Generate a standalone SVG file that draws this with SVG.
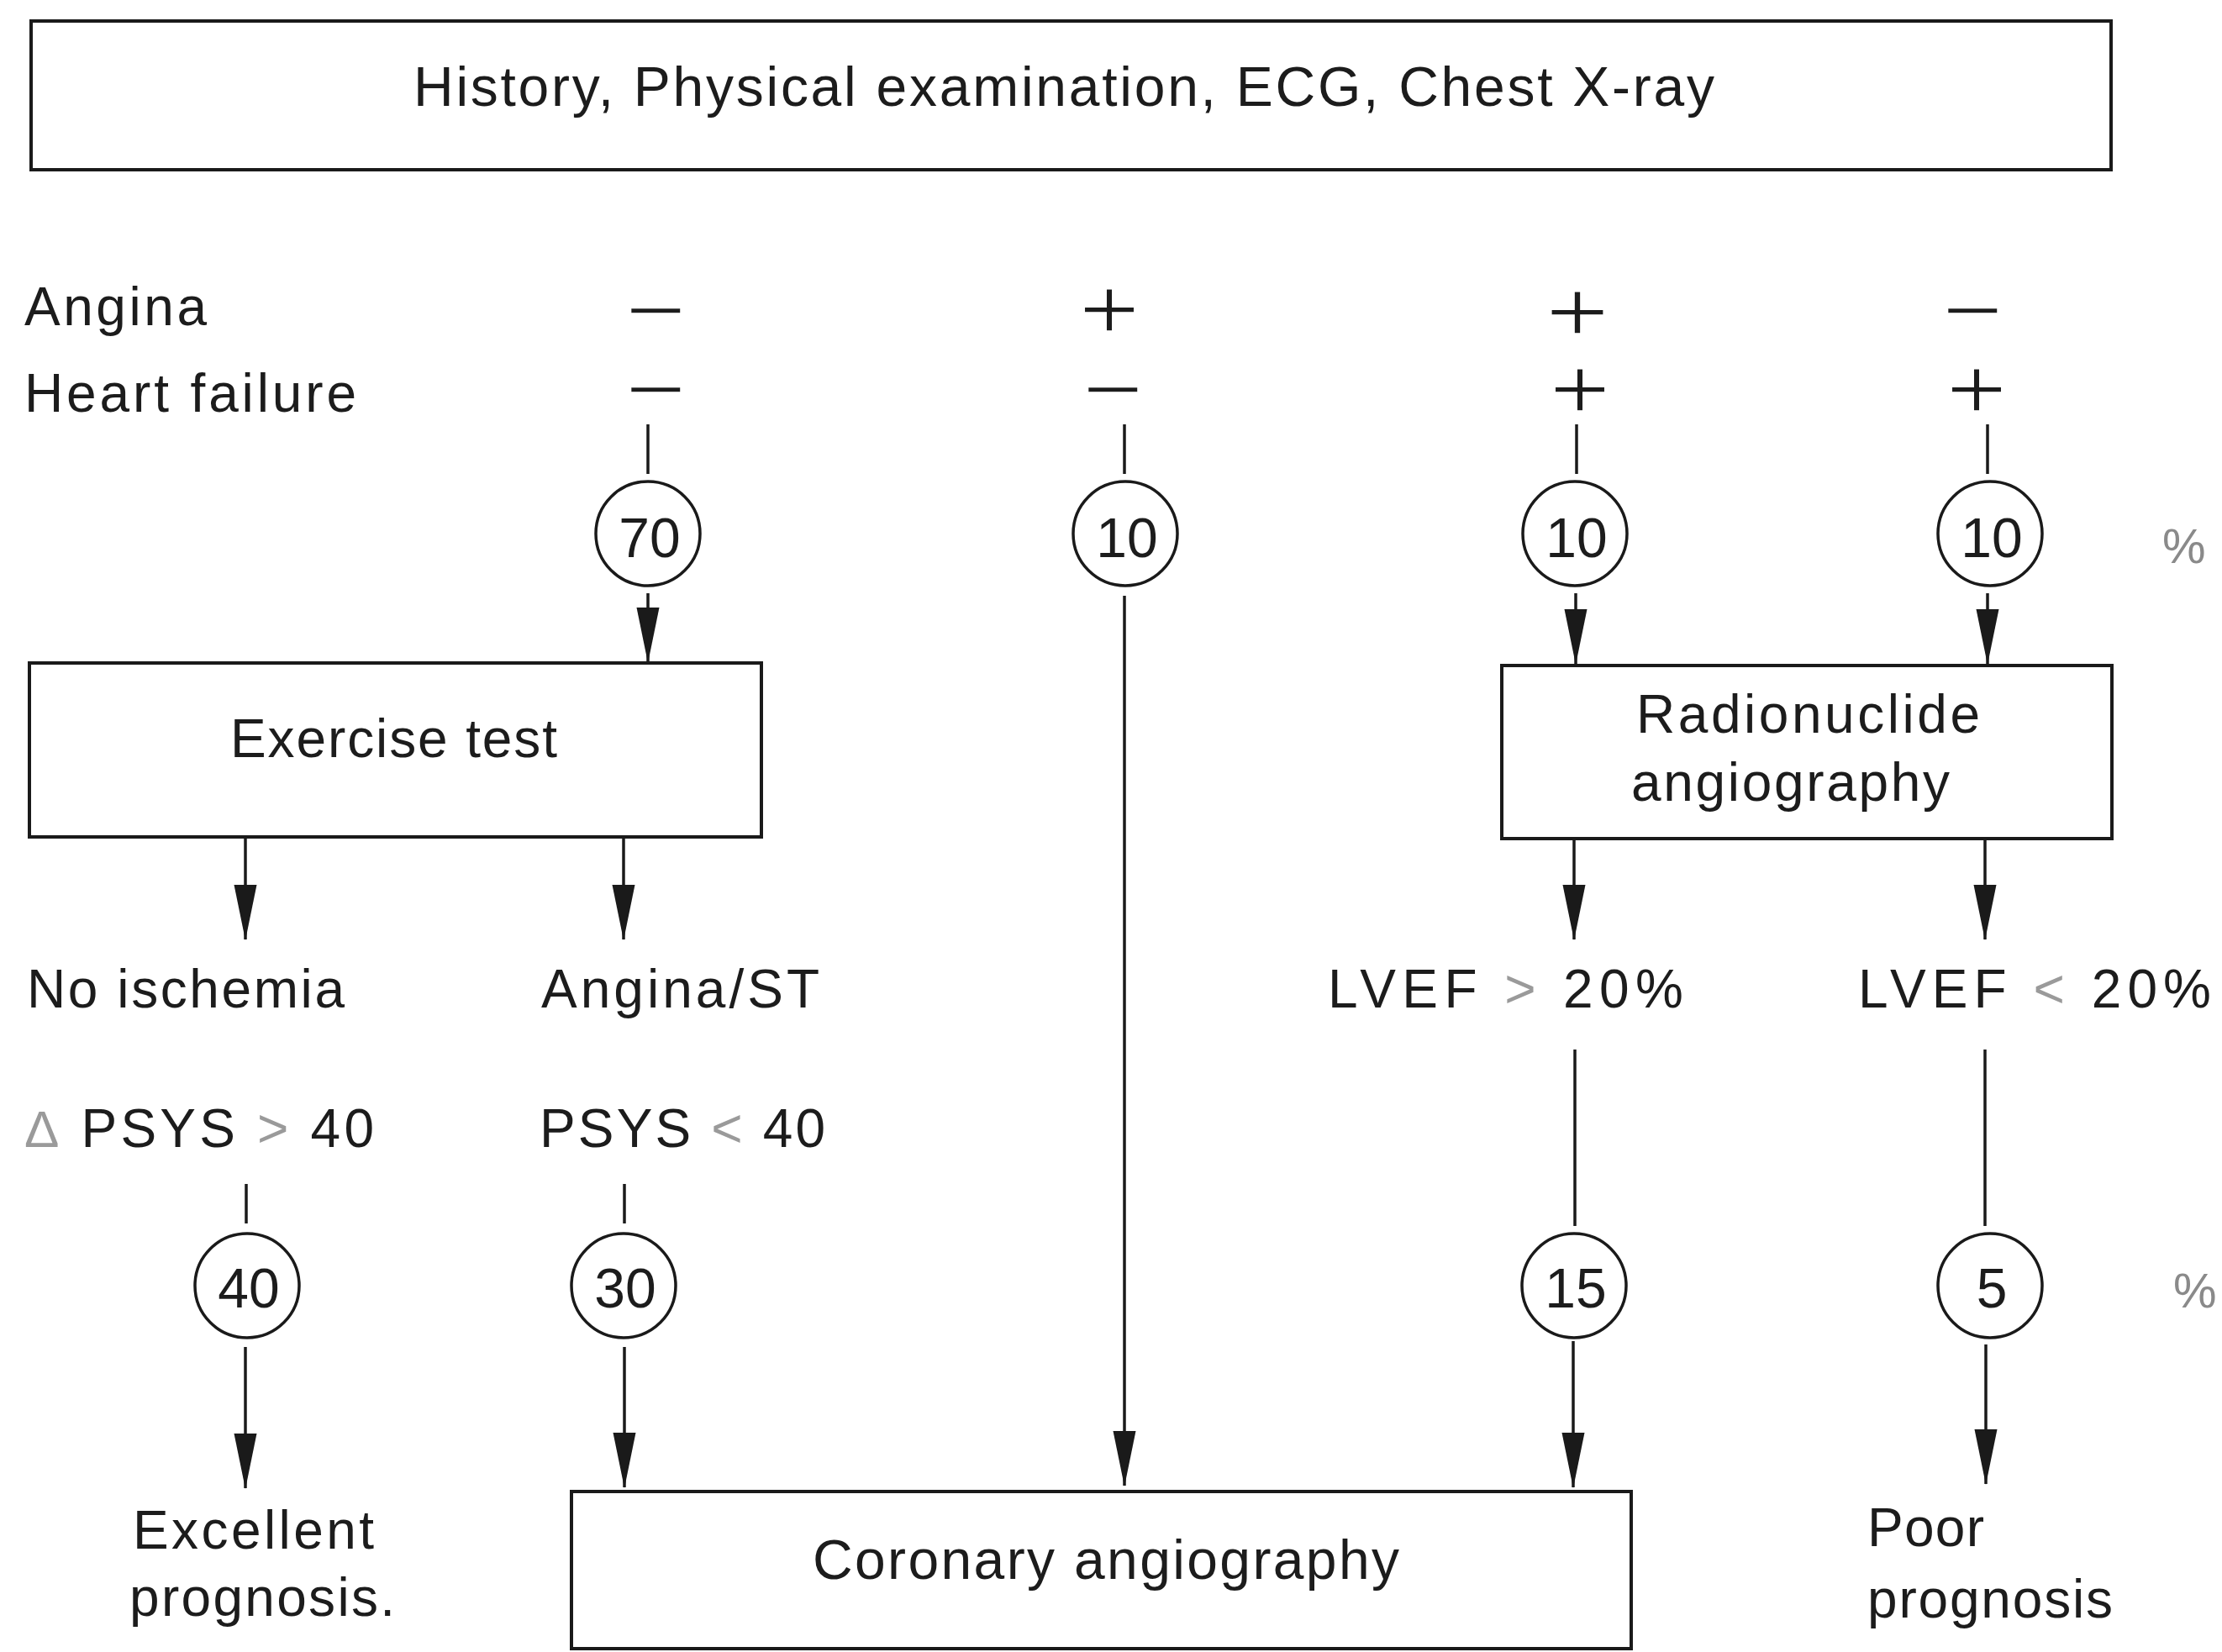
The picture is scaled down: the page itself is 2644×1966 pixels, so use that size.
<svg xmlns="http://www.w3.org/2000/svg" width="2644" height="1966" viewBox="0 0 2644 1966">
<defs>
<style>
.box{fill:#fff;stroke:#1a1a1a;stroke-width:4}
.ring{fill:#fff;stroke:#1a1a1a;stroke-width:3.5}
.ln{stroke:#1a1a1a;stroke-width:3.5;fill:none}
.t{font-family:"Liberation Sans",Arial,sans-serif;font-size:64px;fill:#1c1c1c}
.big{font-size:66px}
.num{font-family:"Liberation Sans",Arial,sans-serif;font-size:66px;fill:#1c1c1c;text-anchor:middle}
.sg{font-family:"DejaVu Sans",sans-serif;font-size:80px;fill:#1c1c1c;text-anchor:middle;stroke:#fff;stroke-width:1.5}
.gr{fill:#9a9a9a}
.pct{font-family:"Liberation Sans",Arial,sans-serif;font-size:58px;fill:#8a8a8a}
</style>
<marker id="ah" viewBox="0 -14 66 28" markerWidth="66" markerHeight="28" refX="65" refY="0" orient="auto" markerUnits="userSpaceOnUse">
<path d="M0,-13.5 L66,0 L0,13.5 Z" fill="#1a1a1a"/>
</marker>
</defs>
<rect width="2644" height="1966" fill="#fff"/>

<g id="connectors">
<line class="ln" x1="771" y1="505" x2="771" y2="564"/>
<line class="ln" x1="1338" y1="505" x2="1338" y2="564"/>
<line class="ln" x1="1876" y1="505" x2="1876" y2="564"/>
<line class="ln" x1="2365" y1="505" x2="2365" y2="564"/>
<line class="ln" x1="771" y1="706" x2="771" y2="788" marker-end="url(#ah)"/>
<line class="ln" x1="1338" y1="709" x2="1338" y2="1768" marker-end="url(#ah)"/>
<line class="ln" x1="1875" y1="706" x2="1875" y2="790" marker-end="url(#ah)"/>
<line class="ln" x1="2365" y1="706" x2="2365" y2="790" marker-end="url(#ah)"/>
<line class="ln" x1="292" y1="996" x2="292" y2="1118" marker-end="url(#ah)"/>
<line class="ln" x1="742" y1="996" x2="742" y2="1118" marker-end="url(#ah)"/>
<line class="ln" x1="1873" y1="998" x2="1873" y2="1118" marker-end="url(#ah)"/>
<line class="ln" x1="2362" y1="998" x2="2362" y2="1118" marker-end="url(#ah)"/>
<line class="ln" x1="293" y1="1409" x2="293" y2="1456"/>
<line class="ln" x1="743" y1="1409" x2="743" y2="1456"/>
<line class="ln" x1="1874" y1="1249" x2="1874" y2="1459"/>
<line class="ln" x1="2362" y1="1249" x2="2362" y2="1459"/>
<line class="ln" x1="292" y1="1603" x2="292" y2="1771" marker-end="url(#ah)"/>
<line class="ln" x1="743" y1="1603" x2="743" y2="1770" marker-end="url(#ah)"/>
<line class="ln" x1="1872" y1="1596" x2="1872" y2="1770" marker-end="url(#ah)"/>
<line class="ln" x1="2363" y1="1600" x2="2363" y2="1766" marker-end="url(#ah)"/>
</g>

<g id="node-history">
<rect class="box" x="37" y="25" width="2475" height="177"/>
<text class="t big" x="492" y="126" textLength="1548" lengthAdjust="spacing">History, Physical examination, ECG, Chest X-ray</text>
</g>

<g id="row-labels">
<text class="t" x="29" y="387" textLength="217" lengthAdjust="spacing">Angina</text>
<text class="t" x="29" y="490" textLength="395" lengthAdjust="spacing">Heart failure</text>
</g>

<g id="signs">
<text class="sg" x="780" y="395" textLength="80" lengthAdjust="spacingAndGlyphs">−</text>
<text class="sg" x="780" y="489" textLength="80" lengthAdjust="spacingAndGlyphs">−</text>
<text class="sg" x="1320" y="394" textLength="80" lengthAdjust="spacingAndGlyphs">+</text>
<text class="sg" x="1324" y="489" textLength="80" lengthAdjust="spacingAndGlyphs">−</text>
<text class="sg" x="1877" y="397" textLength="84" lengthAdjust="spacingAndGlyphs">+</text>
<text class="sg" x="1880" y="489" textLength="80" lengthAdjust="spacingAndGlyphs">+</text>
<text class="sg" x="2347" y="395" textLength="80" lengthAdjust="spacingAndGlyphs">−</text>
<text class="sg" x="2352" y="489" textLength="80" lengthAdjust="spacingAndGlyphs">+</text>
</g>

<g id="node-70">
<circle class="ring" cx="771" cy="635" r="62"/>
<text class="num" x="773" y="663">70</text>
</g>
<g id="node-10a">
<circle class="ring" cx="1339" cy="635" r="62"/>
<text class="num" x="1341" y="663">10</text>
</g>
<g id="node-10b">
<circle class="ring" cx="1874" cy="635" r="62"/>
<text class="num" x="1876" y="663">10</text>
</g>
<g id="node-10c">
<circle class="ring" cx="2368" cy="635" r="62"/>
<text class="num" x="2370" y="663">10</text>
</g>
<g id="pct-top">
<text class="pct" x="2573" y="670">%</text>
</g>

<g id="node-exercise">
<rect class="box" x="35" y="789" width="871" height="207"/>
<text class="t" x="274" y="901" textLength="389" lengthAdjust="spacing">Exercise test</text>
</g>

<g id="node-radionuclide">
<rect class="box" x="1787" y="792" width="726" height="206"/>
<text class="t" x="1947" y="872" textLength="409" lengthAdjust="spacing">Radionuclide</text>
<text class="t" x="1941" y="953" textLength="379" lengthAdjust="spacing">angiography</text>
</g>

<g id="node-no-ischemia">
<text class="t" x="32" y="1199" textLength="378" lengthAdjust="spacing">No ischemia</text>
<text class="t" x="29" y="1365" textLength="416" lengthAdjust="spacing"><tspan class="gr" font-size="62">Δ</tspan> PSYS <tspan class="gr">&gt;</tspan> 40</text>
</g>

<g id="node-angina-st">
<text class="t" x="644" y="1199" textLength="331" lengthAdjust="spacing">Angina/ST</text>
<text class="t" x="642" y="1365" textLength="340" lengthAdjust="spacing">PSYS <tspan class="gr">&lt;</tspan> 40</text>
</g>

<g id="node-lvef-high">
<text class="t" x="1580" y="1199" textLength="423" lengthAdjust="spacing">LVEF <tspan class="gr">&gt;</tspan> 20%</text>
</g>

<g id="node-lvef-low">
<text class="t" x="2211" y="1199" textLength="420" lengthAdjust="spacing">LVEF <tspan class="gr">&lt;</tspan> 20%</text>
</g>

<g id="node-40">
<circle class="ring" cx="294" cy="1530" r="62"/>
<text class="num" x="296" y="1556">40</text>
</g>
<g id="node-30">
<circle class="ring" cx="742" cy="1530" r="62"/>
<text class="num" x="744" y="1556">30</text>
</g>
<g id="node-15">
<circle class="ring" cx="1873" cy="1530" r="62"/>
<text class="num" x="1875" y="1556">15</text>
</g>
<g id="node-5">
<circle class="ring" cx="2368" cy="1530" r="62"/>
<text class="num" x="2370" y="1556">5</text>
</g>
<g id="pct-bottom">
<text class="pct" x="2586" y="1556">%</text>
</g>

<g id="node-excellent">
<text class="t" x="158" y="1843" textLength="287" lengthAdjust="spacing">Excellent</text>
<text class="t" x="154" y="1923" textLength="316" lengthAdjust="spacing">prognosis.</text>
</g>

<g id="node-coronary">
<rect class="box" x="680" y="1775" width="1261" height="187"/>
<text class="t big" x="967" y="1879" textLength="698" lengthAdjust="spacing">Coronary angiography</text>
</g>

<g id="node-poor">
<text class="t" x="2222" y="1840" textLength="139" lengthAdjust="spacing">Poor</text>
<text class="t" x="2222" y="1925" textLength="292" lengthAdjust="spacing">prognosis</text>
</g>
</svg>
